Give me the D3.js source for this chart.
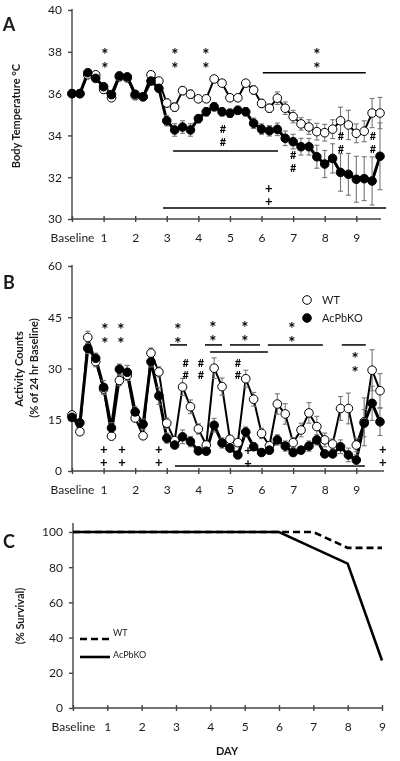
<!DOCTYPE html>
<html><head><meta charset="utf-8">
<script src="https://cdn.jsdelivr.net/npm/d3@7"></script>
<style>
body{margin:0;background:#fff}
svg{will-change:transform}
text{font-family:Lato,"Open Sans",sans-serif;fill:#1a1a1a}
text.sig{fill:#000;opacity:0.99;writing-mode:vertical-rl;text-orientation:upright;font-weight:bold}
</style>
</head><body>
<svg id="c" width="400" height="761"></svg>
<script>
// ---------- DATA ----------
const dayTicks = [0,1,2,3,4,5,6,7,8,9];
const dayLabels = ["Baseline","1","2","3","4","5","6","7","8","9"];
const tempTicks = [30,32,34,36,38,40];
const actTicks = [0,15,30,45,60];
const survTicks = [0,20,40,60,80,100];
const seriesNames = ["WT","AcPbKO"];

// Panel A: body temperature, 4 readings per day (6 h)
const wtTemp = [36.0,36.0,36.9,36.9,36.2,35.8,36.8,36.75,35.9,35.85,
  36.9,36.6,35.55,35.35,36.14,35.97,35.75,35.75,36.7,36.5,
  35.8,35.8,36.5,36.17,35.53,35.3,35.78,35.3,34.9,34.55,
  34.4,34.18,34.13,34.3,34.7,34.5,34.1,34.2,35.07,35.07];
const wtTempErr = [0.1,0.1,0.1,0.1,0.1,0.1,0.1,0.1,0.1,0.1,
  0.1,0.1,0.2,0.2,0.2,0.2,0.15,0.15,0.15,0.15,
  0.15,0.15,0.15,0.2,0.2,0.2,0.3,0.3,0.3,0.3,
  0.35,0.4,0.4,0.45,0.65,0.7,0.45,0.5,0.7,0.75];
const koTemp = [36.0,36.0,37.0,36.73,36.33,35.95,36.85,36.8,35.97,35.85,
  36.6,36.25,34.7,34.26,34.4,34.26,34.8,35.13,35.37,35.13,
  35.06,35.2,35.13,34.58,34.3,34.22,34.29,33.86,33.7,33.46,
  33.46,32.98,32.63,32.9,32.23,32.14,31.9,31.93,31.82,33.0];
const koTempErr = [0.1,0.1,0.1,0.1,0.1,0.1,0.1,0.1,0.1,0.1,
  0.1,0.15,0.25,0.3,0.3,0.3,0.2,0.2,0.2,0.2,
  0.2,0.2,0.2,0.25,0.25,0.25,0.3,0.35,0.35,0.4,
  0.4,0.55,0.65,0.7,0.9,1.0,1.1,1.05,1.15,1.6];

// Panel B: activity counts (% of 24 hr baseline)
const wtAct = [16.4,11.5,39.1,32,24,10.2,26.5,28,15.5,10.3,
  34.5,29,14,8.9,24.6,18.8,12.3,7.6,30.1,24.7,
  9.3,8.3,27.0,21,11,7.4,19.6,16.7,8.3,12,
  17,13,9.1,7.9,18.3,18.3,7.6,14.4,29.5,23.5];
const wtActErr = [1,1,1.8,1.5,1.5,1,1.5,1.5,1,1,
  1.5,1.5,1.5,1,2.5,2,1.5,1,3,2.5,
  1,1,2.5,2,1.5,1,3,3,1.5,2,
  3,3,2,1.5,3.5,4.5,2,7,6,5];
const koAct = [15.7,14.1,35.9,33,24.5,12.6,29.8,28.9,17.3,13.7,
  32,22,9.6,7.6,10,8.6,5.9,5.8,13.4,8.2,
  6.7,4.7,11.4,7.1,5.4,6.1,9.1,7.3,5.4,6.1,
  7.3,9.1,5,5,7.1,4.7,3.2,14,19.8,14.4];
const koActErr = [1,1,1.5,1.5,2,1.5,1.5,2,1.5,1.5,
  1.5,2.5,1.5,1,2,1.5,1,1,2,1.5,
  1,1,1.5,1,1,1,1.5,1.5,1,1,
  1.5,1.5,1,1,2,2,1.5,4,5,4];

// Panel C: survival
const survDays = [0,1,2,3,4,5,6,7,8,9];
const wtSurv = [100,100,100,100,100,100,100,100,91,91];
const koSurv = [100,100,100,100,100,100,100,91,82,27];

// Significance annotations [day, value]
const aStars = [[1.04,37.75],[3.26,37.75],[4.24,37.75],[7.75,37.75]];
const aStarLines = [[6.04,9.3,37.0]];
const aHashes = [[4.78,34.0],[7.0,32.78],[8.51,33.7],[9.53,33.7]];
const aHashLines = [[3.2,6.52,33.25]];
const aPlus = [[6.23,31.24]];
const aPlusLines = [[2.88,9.94,30.53]];

const bStars = [[1.04,40.7],[1.55,40.7],[3.35,40.7],[4.46,41.2],[5.47,41.2],[6.96,41.0],[8.96,32.3]];
const bStarLines = [[3.1,3.64,36.9],[4.21,4.75,36.9],[5.0,5.95,36.9],[6.2,7.94,36.9],[8.54,9.3,36.9],[4.37,6.2,34.8]];
const bHashes = [[3.6,30.1],[4.08,30.1],[5.25,30.1]];
const bPlus = [[1.01,5],[1.58,5],[2.75,5],[5.57,4.8],[9.84,5]];
const bPlusLines = [[3.26,9.27,1.46]];

// ---------- DRAW ----------
const svg = d3.select("#c");
const axisColor = "#444";
const dayOf = i => i/4;

function styleAxis(g){
  g.selectAll("path.domain").attr("stroke",axisColor).attr("stroke-width",1.4);
  g.selectAll(".tick line").attr("stroke",axisColor).attr("stroke-width",1.4);
  g.selectAll(".tick text").style("font-size","12px").attr("fill","#1a1a1a");
}
function xAxisDraw(x, y0, endX){
  const g = svg.append("g").attr("transform",`translate(0,${y0})`)
    .call(d3.axisBottom(x).tickValues(dayTicks).tickFormat((d,i)=>dayLabels[i]).tickSize(3).tickSizeOuter(0).tickPadding(11));
  g.select("path.domain").attr("d",`M${x.range()[0]},0H${endX}`);
  g.selectAll(".tick line").attr("y1",-3).attr("y2",3);
  styleAxis(g);
  return g;
}
function yAxisDraw(y, x0, ticks, topY){
  const g = svg.append("g").attr("transform",`translate(${x0},0)`)
    .call(d3.axisLeft(y).tickValues(ticks).tickSize(4).tickSizeOuter(0).tickPadding(6));
  g.select("path.domain").attr("d",`M0,${topY}V${y.range()[0]}`);
  styleAxis(g);
  return g;
}
function errBars(x, y, vals, errs, color){
  const g = svg.append("g").attr("stroke",color).attr("stroke-width",1.1).attr("fill","none");
  vals.forEach((v,i)=>{
    const cx = x(dayOf(i)), y1 = y(v+errs[i]), y2 = y(v-errs[i]);
    g.append("line").attr("x1",cx).attr("x2",cx).attr("y1",y1).attr("y2",y2);
    g.append("line").attr("x1",cx-2.5).attr("x2",cx+2.5).attr("y1",y1).attr("y2",y1);
    g.append("line").attr("x1",cx-2.5).attr("x2",cx+2.5).attr("y1",y2).attr("y2",y2);
  });
}
function series(x, y, vals, lw){
  const line = d3.line().x((d,i)=>x(dayOf(i))).y(d=>y(d));
  svg.append("path").datum(vals).attr("d",line).attr("fill","none")
    .attr("stroke","#000").attr("stroke-width",lw).attr("stroke-linejoin","round");
}
function dots(x, y, vals, open){
  svg.append("g").selectAll("circle").data(vals).join("circle")
    .attr("cx",(d,i)=>x(dayOf(i))).attr("cy",d=>y(d)).attr("r",4.3)
    .attr("fill",open?"#fff":"#000").attr("stroke","#000").attr("stroke-width",1);
}
// stacked pair of symbols as one vertical text
function stack(x, y, list, ch, size, gap, dyAdj){
  list.forEach(([d,v])=>{
    svg.append("text").attr("class","sig")
      .attr("x",x(d)).attr("y",y(v)+dyAdj).attr("text-anchor","middle")
      .style("font-size",size+"px").style("letter-spacing",(gap-size)+"px")
      .text(ch+ch);
  });
}
function hlines(x, y, list){
  list.forEach(([d1,d2,v])=>{
    svg.append("line").attr("x1",x(d1)).attr("x2",x(d2)).attr("y1",y(v)).attr("y2",y(v))
      .attr("stroke","#000").attr("stroke-width",1.5);
  });
}

// ---- Panel A ----
const xA = d3.scaleLinear().domain([0,9.75]).range([72,380]);
const yA = d3.scaleLinear().domain([30,40]).range([219,10]);
yAxisDraw(yA, 72, tempTicks, 9);
xAxisDraw(xA, 219, 381);
hlines(xA, yA, aStarLines); hlines(xA, yA, aHashLines); hlines(xA, yA, aPlusLines);
series(xA, yA, wtTemp, 2);
series(xA, yA, koTemp, 3);
errBars(xA, yA, wtTemp, wtTempErr, "#777");
errBars(xA, yA, koTemp, koTempErr, "#777");
dots(xA, yA, wtTemp, true);
dots(xA, yA, koTemp, false);
stack(xA, yA, aStars, "*", 17, 10, 1);
stack(xA, yA, aHashes, "#", 11, 11, 0);
stack(xA, yA, aPlus, "+", 13, 10, 0);
svg.append("text").attr("x",9).attr("y",31).attr("text-anchor","middle").style("font-size","18px").style("font-weight","bold").text("A");
svg.append("text").attr("transform",`translate(20,116) rotate(-90)`).attr("text-anchor","middle")
  .style("font-size","11px").style("font-weight","bold").text("Body Temperature \u00B0C");

// ---- Panel B ----
const xB = d3.scaleLinear().domain([0,9.75]).range([72,380]);
const yB = d3.scaleLinear().domain([0,60]).range([471,266]);
yAxisDraw(yB, 72, actTicks, 265);
xAxisDraw(xB, 471, 384);
hlines(xB, yB, bStarLines); hlines(xB, yB, bPlusLines);
series(xB, yB, wtAct, 2);
series(xB, yB, koAct, 3);
errBars(xB, yB, wtAct, wtActErr, "#777");
errBars(xB, yB, koAct, koActErr, "#777");
dots(xB, yB, wtAct, true);
dots(xB, yB, koAct, false);
stack(xB, yB, bStars, "*", 17, 10, 1);
stack(xB, yB, bHashes, "#", 11, 10, 0);
stack(xB, yB, bPlus, "+", 13, 10, 0);
svg.append("text").attr("x",9).attr("y",289).attr("text-anchor","middle").style("font-size","18px").style("font-weight","bold").text("B");
svg.append("text").attr("transform",`translate(23,369) rotate(-90)`).attr("text-anchor","middle")
  .style("font-size","11px").style("font-weight","bold").text("Activity Counts");
svg.append("text").attr("transform",`translate(38,368) rotate(-90)`).attr("text-anchor","middle")
  .style("font-size","11px").style("font-weight","bold").text("(% of 24 hr Baseline)");
const legB = svg.append("g");
seriesNames.forEach((n,i)=>{
  legB.append("circle").attr("cx",307).attr("cy",300+i*18).attr("r",4.3)
    .attr("fill",i===0?"#fff":"#000").attr("stroke","#000");
  legB.append("text").attr("x",322).attr("y",304+i*18).style("font-size","11px").text(n);
});

// ---- Panel C ----
const xC = d3.scaleLinear().domain([0,9]).range([73,382]);
const yC = d3.scaleLinear().domain([0,100]).range([708,532]);
yAxisDraw(yC, 73, survTicks, 523);
xAxisDraw(xC, 708, 383);
const lineC = d3.line().x((d,i)=>xC(survDays[i])).y(d=>yC(d));
svg.append("path").datum(wtSurv).attr("d",lineC).attr("fill","none").attr("stroke","#000")
  .attr("stroke-width",2.6).attr("stroke-dasharray","7,4");
svg.append("path").datum(koSurv).attr("d",lineC).attr("fill","none").attr("stroke","#000")
  .attr("stroke-width",2.6);
const legC = svg.append("g");
seriesNames.forEach((n,i)=>{
  legC.append("line").attr("x1",80).attr("x2",110).attr("y1",639+i*18).attr("y2",639+i*18)
    .attr("stroke","#000").attr("stroke-width",2.6).attr("stroke-dasharray",i===0?"7,4":null);
  legC.append("text").attr("x",113).attr("y",636+i*18+(i===0?0:4)).style("font-size","9px").text(n);
});
svg.append("text").attr("x",9).attr("y",548).attr("text-anchor","middle").style("font-size","18px").style("font-weight","bold").text("C");
svg.append("text").attr("transform",`translate(24,616) rotate(-90)`).attr("text-anchor","middle")
  .style("font-size","11px").style("font-weight","bold").text("(% Survival)");
svg.append("text").attr("x",227).attr("y",755).attr("text-anchor","middle")
  .style("font-size","11px").style("font-weight","bold").text("DAY");
</script>
</body></html>
